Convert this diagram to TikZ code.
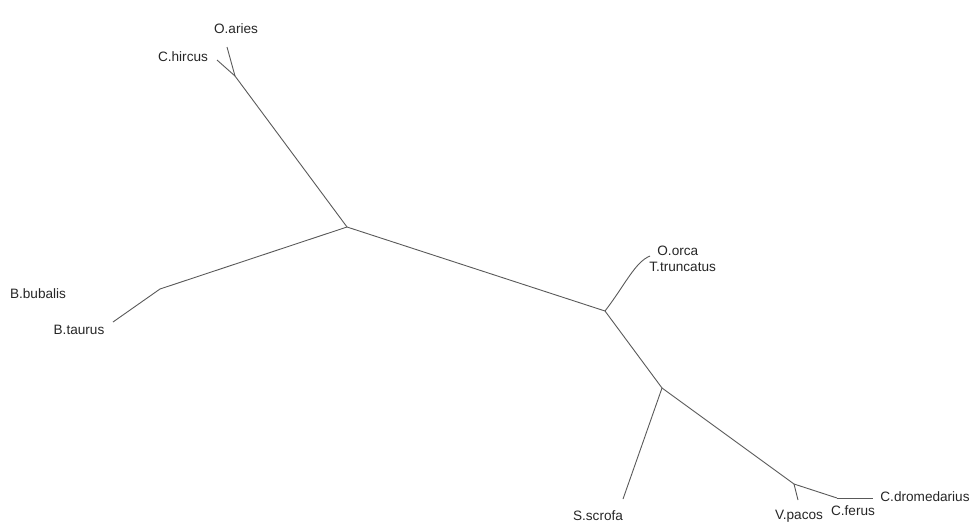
\documentclass[tikz,border=0pt]{standalone}
\usepackage{fontspec}
\setmainfont{Liberation Sans}
\usepackage{tikz}
\usetikzlibrary{positioning}

\begin{document}
\begin{tikzpicture}[
        x=0.5pt, y=-0.5pt,
        branch/.style={draw=black!65, line width=0.45pt},
        taxon/.style={font=\fontsize{6.8}{7.4}\selectfont, inner sep=0pt, text=black!85}
      ]
        \useasboundingbox (0,0) rectangle (972,525);

        % inner nodes of the tree
        \coordinate (root) at (347,227);
        \coordinate (capr) at (235,76);
        \coordinate (bov) at (160,289);
        \coordinate (ceta) at (605,311);
        \coordinate (rest) at (662,388);
        \coordinate (cam) at (794,484);
        \coordinate (camb) at (837,498);

        % tips
        \coordinate (aries) at (227,47);
        \coordinate (hircus) at (217,60);
        \coordinate (taurus) at (113,322);
        \coordinate (orca) at (650,256);
        \coordinate (scrofa) at (623,499);
        \coordinate (pacos) at (798,500);
        \coordinate (drom) at (873,498);

        % branches
        \draw[branch] (root) -- (capr);
        \draw[branch] (capr) -- (aries);
        \draw[branch] (capr) -- (hircus);
        \draw[branch] (root) -- (bov);
        \draw[branch] (bov) -- (taurus);
        \draw[branch] (root) -- (ceta);
        \draw[branch] (ceta) .. controls (625,285) and (635,262) .. (orca);
        \draw[branch] (ceta) -- (rest);
        \draw[branch] (rest) -- (scrofa);
        \draw[branch] (rest) -- (cam);
        \draw[branch] (cam) -- (pacos);
        \draw[branch] (cam) -- (camb);
        \draw[branch] (camb) -- (drom);

        % taxon labels
        \node[taxon] (laries) at (236,29) {O.aries};
        \node[taxon] (lhircus) at (183,57) {C.hircus};
        \node[taxon] (lbubalis) at (38,294) {B.bubalis};
        \node[taxon] (ltaurus) at (79,330) {B.taurus};
        \node[taxon, anchor=west] (lorca) at (657,251) {O.orca};
        \node[taxon, anchor=west] (ltrunc) at (649,267) {T.truncatus};
        \node[taxon] (lscrofa) at (598,516) {S.scrofa};
        \node[taxon] (lpacos) at (799,516) {V.pacos};
        \node[taxon] (lferus) at (853,511) {C.ferus};
        \node[taxon, anchor=west] (ldrom) at (880,497) {C.dromedarius};
      \end{tikzpicture}
\end{document}
